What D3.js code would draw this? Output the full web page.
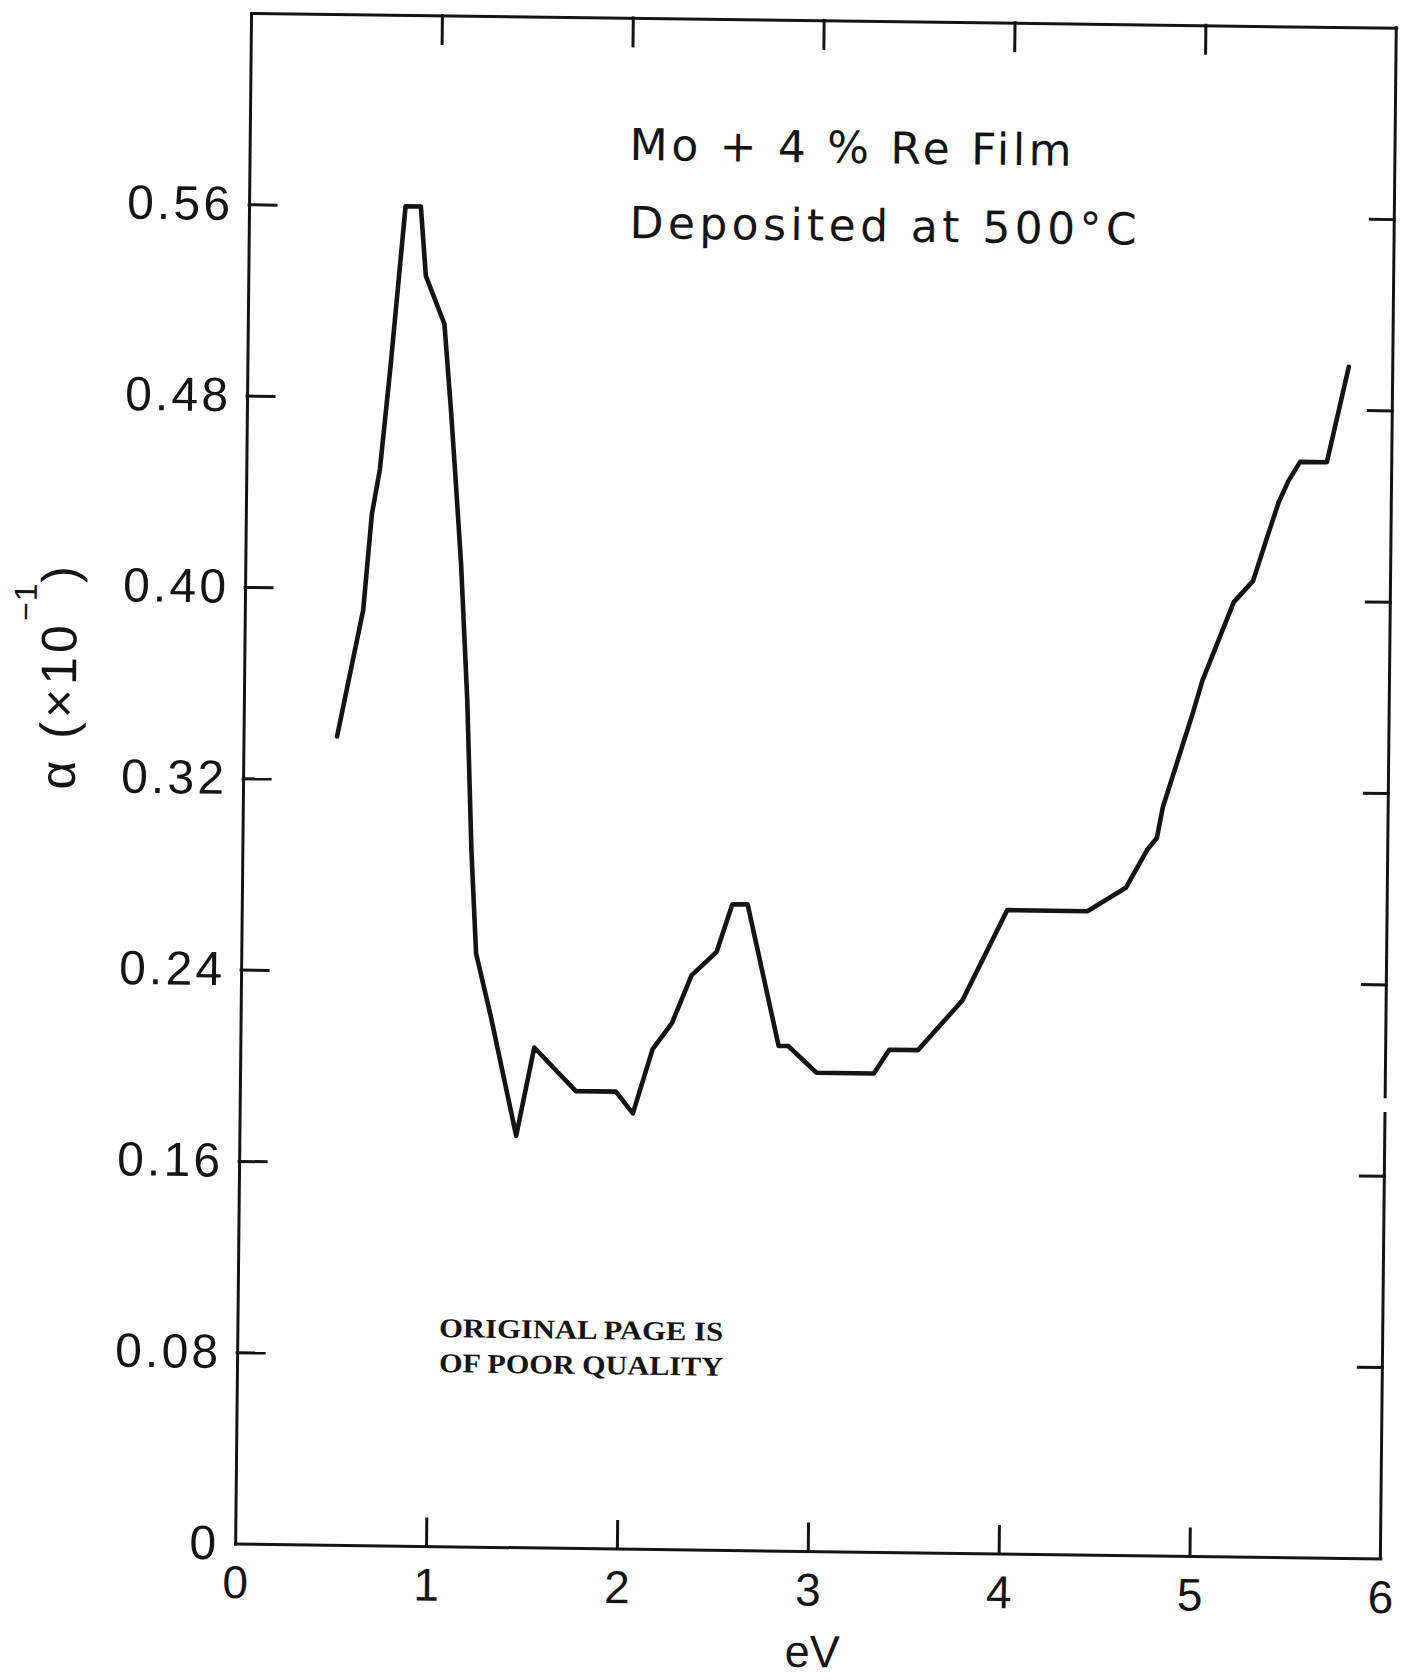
<!DOCTYPE html>
<html>
<head>
<meta charset="utf-8">
<script src="https://cdn.jsdelivr.net/npm/d3@7"></script>
<style>
  html, body { margin: 0; padding: 0; background: #ffffff; }
  svg { display: block; }
</style>
</head>
<body>
<svg id="chart" width="1411" height="1680"></svg>
<script>
// ---------------- data ----------------
const energy = [0.49, 0.62, 0.66, 0.70, 0.75, 0.82, 0.90, 0.93, 1.03, 1.07,
                1.10, 1.13, 1.17, 1.20, 1.23, 1.31, 1.45, 1.54, 1.76, 1.97,
                2.06, 2.16, 2.26, 2.36, 2.49, 2.57, 2.65, 2.82, 2.87, 3.02,
                3.32, 3.40, 3.55, 3.78, 4.01, 4.43, 4.63, 4.74, 4.79, 4.82,
                4.87, 4.97, 5.02, 5.18, 5.28, 5.35, 5.41, 5.46, 5.52, 5.66,
                5.77];
const alpha  = [0.338, 0.391, 0.431, 0.450, 0.493, 0.560, 0.560, 0.531, 0.511, 0.474,
                0.443, 0.411, 0.354, 0.291, 0.248, 0.222, 0.172, 0.209, 0.191, 0.191,
                0.182, 0.209, 0.220, 0.240, 0.250, 0.270, 0.270, 0.211, 0.211, 0.200,
                0.200, 0.210, 0.210, 0.231, 0.269, 0.269, 0.279, 0.295, 0.300, 0.313,
                0.326, 0.352, 0.366, 0.399, 0.408, 0.426, 0.441, 0.450, 0.458, 0.458,
                0.498];
const xTicks = [0, 1, 2, 3, 4, 5, 6];
const xTickLabels = ["0", "1", "2", "3", "4", "5", "6"];
const yTicks = [0, 0.08, 0.16, 0.24, 0.32, 0.40, 0.48, 0.56];
const yTickLabels = ["0", "0.08", "0.16", "0.24", "0.32", "0.40", "0.48", "0.56"];
const innerTicksX = [1, 2, 3, 4, 5];
const innerTicksY = [0.08, 0.16, 0.24, 0.32, 0.40, 0.48, 0.56];
const titleLines = ["Mo + 4 % Re Film", "Deposited at 500\u00B0C"];
const stampLines = ["ORIGINAL PAGE IS", "OF POOR QUALITY"];
const xLabel = "eV";

// ---------------- layout (scanned page is slightly skewed) ----------------
const W = 1145.3, H = 1530.7;
const M = {a: 0.99992, b: 0.012966, c: -0.010387, d: 0.99997, e: 251.05, f: 12.925};
function toLocal(px, py) {
  return [(px - M.e) * M.d - (py - M.f) * M.c, -(px - M.e) * M.b + (py - M.f) * M.a];
}
const INK = "#141414";
const sans = "'Liberation Sans', Arial, sans-serif";
const wide = "'DejaVu Sans', 'Liberation Sans', sans-serif";

const svg = d3.select("#chart");
svg.append("rect").attr("width", 1411).attr("height", 1680).attr("fill", "#fff");

const g = svg.append("g")
  .attr("transform", `matrix(${M.a},${M.b},${M.c},${M.d},${M.e},${M.f})`);

const x = d3.scaleLinear().domain([0, 6]).range([0, W]);
const y = d3.scaleLinear().domain([0, 0.64]).range([H, 0]);

// bottom axis
const gx = g.append("g").attr("transform", `translate(0,${H})`)
  .call(d3.axisBottom(x).tickValues(xTicks).tickFormat((d, i) => xTickLabels[i])
        .tickSizeInner(-27).tickSizeOuter(0).tickPadding(22));
gx.selectAll(".tick line").filter(d => d === 0 || d === 6).remove();

// left axis
const gy = g.append("g")
  .call(d3.axisLeft(y).tickValues(yTicks).tickFormat((d, i) => yTickLabels[i])
        .tickSizeInner(-27).tickSizeOuter(0).tickPadding(19));
gy.selectAll(".tick line").filter(d => d === 0).remove();

// top axis (frame)
g.append("g")
  .call(d3.axisTop(x).tickValues(innerTicksX).tickFormat("")
        .tickSizeInner(-28).tickSizeOuter(0));

// right axis (frame) - its line is drawn separately with the small break of the original
const gr = g.append("g").attr("transform", `translate(${W},0)`)
  .call(d3.axisRight(y).tickValues(innerTicksY).tickFormat("")
        .tickSizeInner(-24).tickSizeOuter(0));
gr.select(".domain").remove();
const rightSegs = [[0.64, 0.193], [0.186, 0]];
gr.selectAll("line.seg").data(rightSegs).enter().append("line")
  .attr("class", "seg")
  .attr("x1", 0).attr("x2", 0)
  .attr("y1", d => y(d[0])).attr("y2", d => y(d[1]));

g.selectAll(".domain, .tick line, line.seg")
  .attr("stroke", INK).attr("stroke-width", 3).attr("fill", "none")
  .attr("stroke-linecap", "square");

gx.selectAll(".tick text")
  .attr("font-family", sans).attr("font-size", 46).attr("fill", INK);
gy.selectAll(".tick text")
  .attr("font-family", sans).attr("font-size", 48).attr("fill", INK)
  .each(function(d, i) {
    if (yTickLabels[i].length > 1) d3.select(this).attr("textLength", 103).attr("lengthAdjust", "spacing");
  });

// curve
const pts = energy.map((e, i) => [e, alpha[i]]);
g.append("path").datum(pts)
  .attr("d", d3.line().x(d => x(d[0])).y(d => y(d[1])))
  .attr("fill", "none").attr("stroke", INK).attr("stroke-width", 4.6)
  .attr("stroke-linejoin", "round").attr("stroke-linecap", "round");

// title
const titlePos = [[629.5, 160], [629.5, 238]];
const titleLen = [442, 507];
titleLines.forEach((t, i) => {
  const p = toLocal(titlePos[i][0], titlePos[i][1]);
  g.append("text").attr("x", p[0]).attr("y", p[1])
    .attr("font-family", wide).attr("font-size", 44).attr("fill", INK)
    .attr("textLength", titleLen[i]).attr("lengthAdjust", "spacing")
    .text(t);
});

// stamp
const stampPos = [[439, 1337], [439, 1372]];
stampLines.forEach((t, i) => {
  const p = toLocal(stampPos[i][0], stampPos[i][1]);
  g.append("text").attr("x", p[0]).attr("y", p[1])
    .attr("font-family", "'Liberation Serif', 'DejaVu Serif', serif")
    .attr("font-size", 27).attr("font-weight", "bold").attr("fill", INK)
    .attr("textLength", 284).attr("lengthAdjust", "spacingAndGlyphs")
    .text(t);
});

// x label
{
  const p = toLocal(812, 1667);
  g.append("text").attr("x", p[0]).attr("y", p[1]).attr("text-anchor", "middle")
    .attr("font-family", sans).attr("font-size", 45).attr("fill", INK).text(xLabel);
}

// y label: α (×10^-1)
{
  const p = toLocal(76, 676);
  const t = g.append("text")
    .attr("transform", `translate(${p[0]},${p[1]}) rotate(-90)`)
    .attr("text-anchor", "middle")
    .attr("font-family", sans).attr("font-size", 50).attr("fill", INK)
    .attr("letter-spacing", 4);
  t.append("tspan").text("\u03B1 (\u00D710");
  t.append("tspan").attr("dy", -40).attr("font-size", 32).attr("letter-spacing", 1).text("\u22121");
  t.append("tspan").attr("dy", 40).text(")");
}
</script>
</body>
</html>
